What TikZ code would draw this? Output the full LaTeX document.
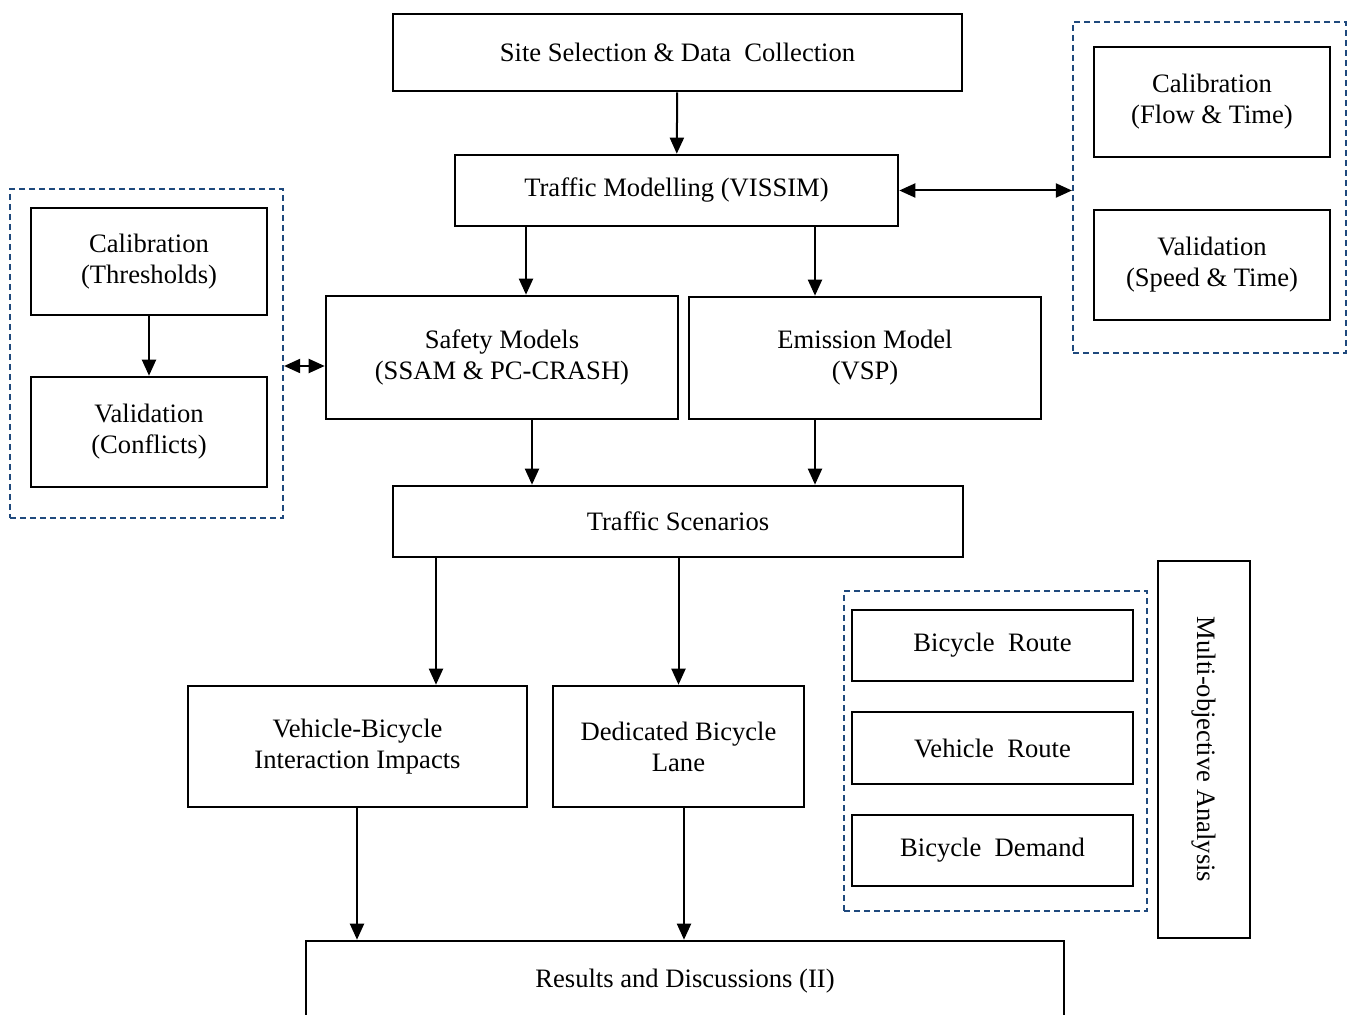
\documentclass[tikz,border=0pt]{standalone}
\usepackage{fontspec}
\setmainfont{Liberation Serif}
\usetikzlibrary{arrows.meta}
\definecolor{dashblue}{RGB}{31,73,125}
\begin{document}
\begin{tikzpicture}[x=0.5pt,y=-0.5pt,
  box/.style={draw,line width=1.3pt,inner sep=0pt,align=center,font=\fontsize{13.3}{15.5}\selectfont},
  grp/.style={draw=dashblue,line width=1.1pt,dash pattern=on 3pt off 2pt,inner sep=0pt},
  arr/.style={line width=1pt,-{Triangle[length=8pt,width=7pt]}},
  darr/.style={line width=1pt,{Triangle[length=8pt,width=7pt]}-{Triangle[length=8pt,width=7pt]}}]
\useasboundingbox (0,0) rectangle (1354,1015);
% dashed groups
\node[grp,minimum width=136.5pt,minimum height=164.5pt] (grpL) at (146.5,353.5) {};
\node[grp,minimum width=136.5pt,minimum height=165.5pt] (grpR) at (1209.5,187.5) {};
\node[grp,minimum width=151.5pt,minimum height=160pt] (grpB) at (995.5,751) {};
% main flow
\node[box,minimum width=284.5pt,minimum height=38.5pt] (site) at (677.5,52.5) {Site Selection \& Data\ \ Collection};
\node[box,minimum width=221.5pt,minimum height=35.5pt] (traffic) at (676.5,190.5) {Traffic Modelling (VISSIM)};
\node[box,minimum width=176pt,minimum height=61.5pt] (safety) at (502,357.5) {Safety Models\\(SSAM \& PC-CRASH)};
\node[box,minimum width=176pt,minimum height=61pt] (emission) at (865,358) {Emission Model\\(VSP)};
\node[box,minimum width=285pt,minimum height=35.5pt] (scen) at (678,521.5) {Traffic Scenarios};
\node[box,minimum width=169.5pt,minimum height=60.5pt] (vbi) at (357.5,746.5) {Vehicle-Bicycle\\Interaction Impacts};
\node[box,minimum width=125.5pt,minimum height=60.5pt] (dbl) at (678.5,746.5) {Dedicated Bicycle\\Lane};
\node[box,minimum width=379pt,minimum height=40pt] (res) at (685,981) {Results and Discussions (II)};
% calibration / validation
\node[box,minimum width=118pt,minimum height=53.5pt] (calT) at (149,261.5) {Calibration\\(Thresholds)};
\node[box,minimum width=118pt,minimum height=55pt] (valC) at (149,432) {Validation\\(Conflicts)};
\node[box,minimum width=118pt,minimum height=55pt] (calF) at (1212,102) {Calibration\\(Flow \& Time)};
\node[box,minimum width=118pt,minimum height=55pt] (valS) at (1212,265) {Validation\\(Speed \& Time)};
% multi-objective
\node[box,minimum width=140.5pt,minimum height=35.5pt] (bR) at (992.5,645.5) {Bicycle\ \ Route};
\node[box,minimum width=140.5pt,minimum height=36pt] (vR) at (992.5,748) {Vehicle\ \ Route};
\node[box,minimum width=140.5pt,minimum height=35.5pt] (bD) at (992.5,850.5) {Bicycle\ \ Demand};
\node[box,rotate=-90,minimum width=188.5pt,minimum height=46pt] (multi) at (1204,749.5) {Multi-objective Analysis};
% arrows
\draw[arr] (site) -- (traffic);
\draw[arr] (traffic.south -| 526,0) -- (safety.north -| 526,0);
\draw[arr] (traffic.south -| 815,0) -- (emission.north -| 815,0);
\draw[darr] (traffic.east) -- (grpR.west |- traffic.east);
\draw[arr] (calT) -- (valC);
\draw[darr] (grpL.east |- 0,366) -- (safety.west |- 0,366);
\draw[arr] (safety.south -| 532,0) -- (scen.north -| 532,0);
\draw[arr] (emission.south -| 815,0) -- (scen.north -| 815,0);
\draw[arr] (scen.south -| 436,0) -- (vbi.north -| 436,0);
\draw[arr] (scen.south -| 678.5,0) -- (dbl.north -| 678.5,0);
\draw[arr] (vbi.south -| 357,0) -- (res.north -| 357,0);
\draw[arr] (dbl.south -| 684,0) -- (res.north -| 684,0);
\end{tikzpicture}
\end{document}
